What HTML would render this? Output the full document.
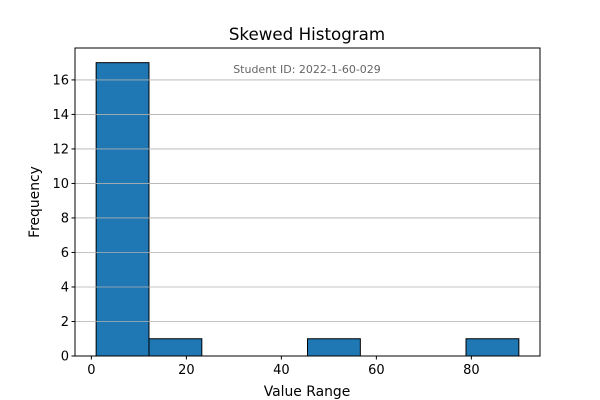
<!DOCTYPE html>
<html><head><meta charset="utf-8"><style>body{margin:0;background:#fff}svg{display:block;font-family:"DejaVu Sans","Liberation Sans",sans-serif}</style></head>
<body>
<svg id="chart" width="600" height="400" viewBox="0 0 600 400" xmlns="http://www.w3.org/2000/svg">
<rect width="600" height="400" fill="#fff"/>
<g id="bars"></g>
<g id="grid"></g>
<g id="axes"></g>
<text x="307" y="40" font-size="16.7" text-anchor="middle">Skewed Histogram</text>
<text x="307" y="73" font-size="11" fill="#666" text-anchor="middle">Student ID: 2022-1-60-029</text>
<text x="307" y="396" font-size="13.9" text-anchor="middle">Value Range</text>
<text x="39" y="202" font-size="13.9" text-anchor="middle" transform="rotate(-90 39 202)">Frequency</text>
</svg>
<script>
const binStart = 1, binEnd = 90;
const counts = [17, 1, 0, 0, 1, 0, 0, 1];
const xTicks = [0, 20, 40, 60, 80];
const yTicks = [0, 2, 4, 6, 8, 10, 12, 14, 16];
const L=75,R=540,T=48,B=356;
const span=binEnd-binStart, xmin=binStart-0.05*span, xmax=binEnd+0.05*span;
const ymax=Math.max(...counts)*1.05;
const X=v=>L+(v-xmin)/(xmax-xmin)*(R-L);
const Y=v=>B-v/ymax*(B-T);
const NS="http://www.w3.org/2000/svg";
function mk(t,a,p){const e=document.createElementNS(NS,t);for(const k in a)e.setAttribute(k,a[k]);p.appendChild(e);return e;}
const bars=document.getElementById('bars'),grid=document.getElementById('grid'),axes=document.getElementById('axes');
const w=span/counts.length;
counts.forEach((c,i)=>{if(c<=0)return;const x0=X(binStart+i*w),x1=X(binStart+(i+1)*w);
const r=mk('rect',{x:x0,y:Y(c),width:x1-x0,height:B-Y(c),fill:'#1f77b4',stroke:'#000','stroke-width':1},bars);

});
yTicks.forEach(v=>{const y=Y(v);
const g=mk('line',{x1:L,x2:R,y1:y,y2:y,stroke:'#b0b0b0','stroke-width':0.8},grid);


mk('line',{x1:L-3.5,x2:L,y1:y,y2:y,stroke:'#000'},axes);
const t=mk('text',{x:L-6,y:y+4.5,'font-size':13,'text-anchor':'end'},axes);t.textContent=v;

});
xTicks.forEach(v=>{const x=X(v);
mk('line',{x1:x,x2:x,y1:B,y2:B+3.5,stroke:'#000'},axes);
const t=mk('text',{x:x,y:B+18,'font-size':13,'text-anchor':'middle'},axes);t.textContent=v;

});
const f=mk('rect',{x:L,y:T,width:R-L,height:B-T,fill:'none',stroke:'#000','stroke-width':1},axes);


</script>
</body></html>
